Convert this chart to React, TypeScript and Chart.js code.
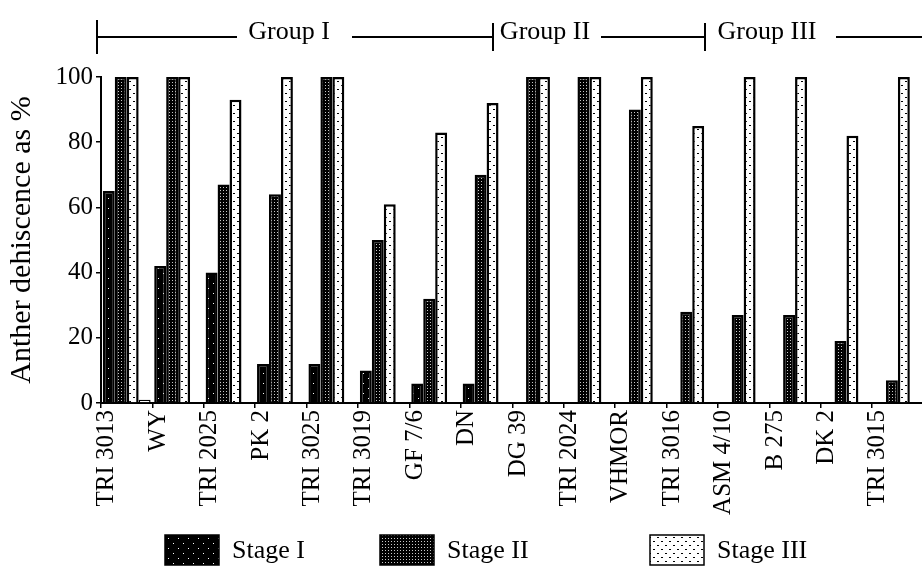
import React, { useEffect, useRef } from "react";
import { Chart, registerables } from "chart.js";

Chart.register(...registerables);

const categories = [
  "TRI 3013", "WY", "TRI 2025", "PK 2", "TRI 3025", "TRI 3019", "GF 7/6", "DN",
  "DG 39", "TRI 2024", "VHMOR", "TRI 3016", "ASM 4/10", "B 275", "DK 2", "TRI 3015",
];
const stageI = [65, 42, 40, 12, 12, 10, 6, 6, 0, 0, 0, 0, 0, 0, 0, 0];
const stageII = [100, 100, 67, 64, 100, 50, 32, 70, 100, 100, 90, 28, 27, 27, 19, 7];
const stageIII = [100, 100, 93, 100, 100, 61, 83, 92, 100, 100, 100, 85, 100, 100, 82, 100];
// faint fourth mark visible only next to the first group
const residual = [1, null, null, null, null, null, null, null, null, null, null, null, null, null, null, null];
const seriesNames = ["Stage I", "Stage II", "Stage III"];
const yTickValues = [0, 20, 40, 60, 80, 100];
const groupNames = ["Group I", "Group II", "Group III"];

const FONT = "'Liberation Serif', 'Times New Roman', serif";

function makePattern(kind: number): CanvasPattern | string {
  const c = document.createElement("canvas");
  const ctx = c.getContext("2d");
  if (!ctx) return "#000";
  if (kind === 0) {
    c.width = 10; c.height = 10;
    ctx.fillStyle = "#000"; ctx.fillRect(0, 0, 10, 10);
    ctx.fillStyle = "#fff"; ctx.fillRect(3, 3, 1, 1); ctx.fillRect(8, 8, 1, 1);
  } else if (kind === 1) {
    c.width = 3; c.height = 3;
    ctx.fillStyle = "#000"; ctx.fillRect(0, 0, 3, 3);
    ctx.fillStyle = "#c8c8c8"; ctx.fillRect(1, 1, 1, 1);
  } else {
    c.width = 8; c.height = 8;
    ctx.fillStyle = "#fff"; ctx.fillRect(0, 0, 8, 8);
    ctx.fillStyle = "#000"; ctx.fillRect(1, 1, 2, 1); ctx.fillRect(5, 5, 2, 1);
  }
  return ctx.createPattern(c, "repeat") || "#000";
}

const headerLegendPlugin = {
  id: "headerLegend",
  afterDraw(chart: any) {
    const ctx = chart.ctx as CanvasRenderingContext2D;
    ctx.save();
    // group header
    ctx.strokeStyle = "#000";
    ctx.lineWidth = 2;
    const hy = 37;
    const segs: [number, number][] = [[97, 237], [352, 493], [601, 705], [836, 930]];
    ctx.beginPath();
    for (const [a, b] of segs) { ctx.moveTo(a, hy); ctx.lineTo(b, hy); }
    ctx.moveTo(97, 20); ctx.lineTo(97, 54);
    ctx.moveTo(493, 23); ctx.lineTo(493, 51);
    ctx.moveTo(705, 23); ctx.lineTo(705, 51);
    ctx.stroke();
    ctx.fillStyle = "#000";
    ctx.font = `26px ${FONT}`;
    ctx.textAlign = "center";
    ctx.textBaseline = "middle";
    const gx = [289, 545, 767];
    groupNames.forEach((g, i) => ctx.fillText(g, gx[i], 32));

    // legend
    const bx = [165, 380, 650];
    const ds = chart.data.datasets;
    ctx.textAlign = "left";
    for (let i = 0; i < 3; i++) {
      ctx.fillStyle = ds[i].backgroundColor;
      ctx.fillRect(bx[i], 535, 54, 30);
      ctx.lineWidth = 1.5;
      ctx.strokeStyle = "#000";
      ctx.strokeRect(bx[i], 535, 54, 30);
      ctx.fillStyle = "#000";
      ctx.fillText(ds[i].label, bx[i] + 67, 551);
    }
    ctx.restore();
  },
};

export default function App() {
  const ref = useRef<HTMLCanvasElement | null>(null);
  useEffect(() => {
    if (!ref.current) return;
    const fills = [makePattern(0), makePattern(1), makePattern(2)];
    const series = [stageI, stageII, stageIII];
    const datasets: any[] = series.map((d, i) => ({
      label: seriesNames[i],
      data: d,
      backgroundColor: fills[i],
      borderColor: "#000",
      borderWidth: 2.5,
      borderSkipped: "bottom",
    }));
    datasets.push({
      label: "",
      data: residual,
      backgroundColor: "#fff",
      borderColor: "#000",
      borderWidth: 1.5,
      borderSkipped: "bottom",
    });
    const chart = new Chart(ref.current, {
      type: "bar",
      data: { labels: categories, datasets },
      plugins: [headerLegendPlugin],
      options: {
        animation: false,
        responsive: true,
        maintainAspectRatio: false,
        layout: { padding: { top: 77, right: 4, bottom: 0, left: 0 } },
        datasets: { bar: { categoryPercentage: 0.93, barPercentage: 1 } },
        plugins: { legend: { display: false }, tooltip: { enabled: false } },
        scales: {
          x: {
            grid: { display: true, drawOnChartArea: false, offset: true, tickLength: 5, color: "#000", lineWidth: 1.5 },
            border: { display: true, color: "#000", width: 2 },
            ticks: {
              autoSkip: false,
              maxRotation: 90,
              minRotation: 90,
              labelOffset: -20,
              padding: 2,
              color: "#000",
              font: { family: FONT, size: 25 },
            },
            afterFit: (s: any) => { s.height = 174; },
          },
          y: {
            min: 0,
            max: 100,
            afterBuildTicks: (s: any) => { s.ticks = yTickValues.map((v) => ({ value: v })); },
            grid: { display: true, drawOnChartArea: false, tickLength: 5, color: "#000", lineWidth: 1.5 },
            border: { display: true, color: "#000", width: 2 },
            ticks: { padding: 3, color: "#000", font: { family: FONT, size: 25 } },
            title: {
              display: true,
              text: "Anther dehiscence as %",
              color: "#000",
              font: { family: FONT, size: 30 },
              padding: { top: 4, bottom: 0 },
            },
            afterFit: (s: any) => { s.width = 101; },
          },
        },
      },
    });
    return () => chart.destroy();
  }, []);
  return (
    <>
      <style>{"html,body{margin:0;padding:0;overflow:hidden;background:#fff}"}</style>
      <div style={{ width: 930, height: 577, position: "relative" }}>
        <canvas ref={ref} />
      </div>
    </>
  );
}
